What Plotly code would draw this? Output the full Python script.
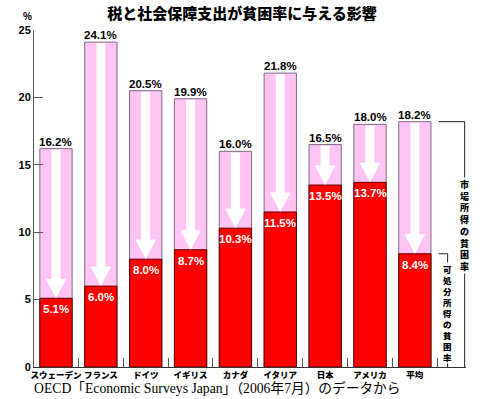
import plotly.graph_objects as go

categories = ["スウェーデン", "フランス", "ドイツ", "イギリス", "カナダ", "イタリア", "日本", "アメリカ", "平均"]
market_rate = [16.2, 24.1, 20.5, 19.9, 16.0, 21.8, 16.5, 18.0, 18.2]
disposable_rate = [5.1, 6.0, 8.0, 8.7, 10.3, 11.5, 13.5, 13.7, 8.4]
y_ticks = [0, 5, 10, 15, 20, 25]

title = "税と社会保障支出が貧困率に与える影響"
source = "OECD「Economic Surveys Japan」（2006年7月）のデータから"
label_market = "市場所得の貧困率"
label_disp = "可処分所得の貧困率"

JP = "Noto Sans CJK JP"
NUM = "Liberation Sans"

xs = list(range(len(categories)))
BW = 0.72
XMAX = 9.14

fig = go.Figure()
fig.add_trace(go.Bar(x=xs, y=market_rate, width=BW,
                     marker=dict(color="#FFC4F4", line=dict(color="#7d6a82", width=1)), hoverinfo="skip"))
fig.add_trace(go.Bar(x=xs, y=disposable_rate, width=BW,
                     marker=dict(color="#FF0000", line=dict(color="#5a0000", width=1)), hoverinfo="skip"))

shapes = []
for i, (t, r) in enumerate(zip(market_rate, disposable_rate)):
    h = min(1.45, (t - r) * 0.6)
    sw, hw = 0.1, 0.23
    top = t - 0.08
    path = (f"M {i-sw},{top} L {i+sw},{top} L {i+sw},{r+h} L {i+hw},{r+h} "
            f"L {i},{r} L {i-hw},{r+h} L {i-sw},{r+h} Z")
    shapes.append(dict(type="path", path=path, xref="x", yref="y", fillcolor="white", line=dict(width=0)))

annotations = []
for i, (t, r) in enumerate(zip(market_rate, disposable_rate)):
    annotations.append(dict(x=i, y=t, xref="x", yref="y", text=f"{t:.1f}%", showarrow=False, yanchor="bottom",
                            yshift=-1, font=dict(family=NUM, size=11.5, color="black", weight="bold")))
    annotations.append(dict(x=i, y=r, xref="x", yref="y", text=f"{r:.1f}%", showarrow=False, yanchor="top",
                            yshift=-3, font=dict(family=NUM, size=11.5, color="white", weight="bold")))

# brackets on the right for the average bar
avg_t = market_rate[-1]
avg_r = disposable_rate[-1]
xb0 = len(categories) - 1 + 0.53
xin = len(categories) - 1 + 0.73
xout = XMAX - 0.03
bcol = "#222222"
shapes.append(dict(type="line", x0=xb0, x1=xout, y0=avg_t, y1=avg_t, xref="x", yref="y", line=dict(color=bcol, width=1)))
shapes.append(dict(type="line", x0=xout, x1=xout, y0=avg_t, y1=0, xref="x", yref="y", line=dict(color=bcol, width=1)))
shapes.append(dict(type="line", x0=xb0, x1=xin, y0=avg_r, y1=avg_r, xref="x", yref="y", line=dict(color=bcol, width=1)))
shapes.append(dict(type="line", x0=xin, x1=xin, y0=avg_r, y1=0, xref="x", yref="y", line=dict(color=bcol, width=1)))

annotations.append(dict(x=xout, y=10.5, xref="x", yref="y", text="<br>".join(label_market), showarrow=False,
                        bgcolor="white", borderpad=0, font=dict(family=JP, size=9, color="black", weight=900)))
annotations.append(dict(x=xin, y=4.0, xref="x", yref="y", text="<br>".join(label_disp), showarrow=False,
                        bgcolor="white", borderpad=0, font=dict(family=JP, size=8.5, color="black", weight=900)))

annotations.append(dict(x=0, y=1, xref="paper", yref="paper", xanchor="right", yanchor="bottom", xshift=0, yshift=6,
                        text="%", showarrow=False, font=dict(family=NUM, size=10, color="black", weight="bold")))
annotations.append(dict(x=0, y=0, xref="paper", yref="paper", xanchor="left", yanchor="middle", xshift=-2, yshift=-21,
                        text=source, showarrow=False,
                        font=dict(family="Liberation Serif, Noto Sans CJK JP", size=13.7, color="black")))

fig.update_layout(
    width=482, height=399,
    margin=dict(l=34, r=16, t=30, b=32),
    paper_bgcolor="white", plot_bgcolor="white",
    barmode="overlay", showlegend=False,
    shapes=shapes, annotations=annotations,
    title=dict(text=title, x=242 / 482, xanchor="center", y=1 - 14 / 399, yanchor="middle",
               font=dict(family=JP, size=15, color="black", weight=900)),
    xaxis=dict(range=[-0.49, XMAX], tickvals=xs, ticktext=categories, ticks="", tickangle=0, showgrid=False,
               zeroline=False, showline=True, linecolor="#333333", linewidth=1, automargin=False,
               tickfont=dict(family=JP, size=8.5, color="black", weight=900),
               minor=dict(tickvals=[i + 0.5 for i in xs], ticks="inside", ticklen=9, tickcolor="#555555",
                          showgrid=False)),
    yaxis=dict(range=[0, 25], tickvals=y_ticks, ticks="inside", ticklen=9, tickcolor="#555555", showgrid=False,
               zeroline=False, showline=True, linecolor="#555555", linewidth=1, automargin=False,
               tickfont=dict(family=NUM, size=11, color="black", weight="bold")),
)

fig.write_html("out.html", config={"displayModeBar": False},
               post_script="document.body.style.margin='0';")
